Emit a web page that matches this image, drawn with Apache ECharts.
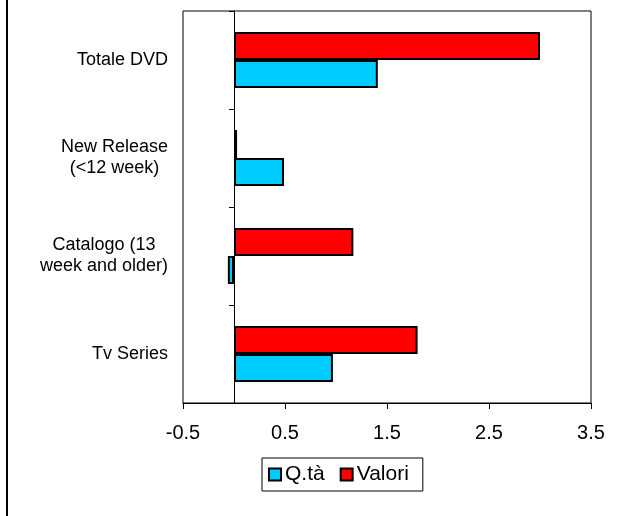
<!DOCTYPE html>
<html>
<head>
<meta charset="utf-8">
<script src="https://cdn.jsdelivr.net/npm/echarts@6/dist/echarts.min.js"></script>
<style>
  html, body { margin: 0; padding: 0; background: #fff; }
  #chart { width: 633px; height: 516px; }
</style>
</head>
<body>
<div id="chart"></div>
<script>
// Categories (top to bottom) and the two series
var categories = ['Totale DVD', 'New Release\n(<12 week)', 'Catalogo (13\nweek and older)', 'Tv Series'];
var valori = [3.0, 0.03, 1.17, 1.80];
var quantita = [1.41, 0.49, -0.06, 0.97];
var tickLabels = [-0.5, 0.5, 1.5, 2.5, 3.5];

var FONT = '"Liberation Sans", Arial, sans-serif';

var chart = echarts.init(document.getElementById('chart'), null, { renderer: 'canvas' });

chart.setOption({
  backgroundColor: '#fff',
  animation: false,
  textStyle: { fontFamily: FONT, color: '#000' },
  graphic: [{
    type: 'line',
    shape: { x1: 7, y1: 0, x2: 7, y2: 516 },
    style: { stroke: '#000', lineWidth: 2 }
  }],
  grid: {
    left: 183, right: 42, top: 11, bottom: 113,
    show: true, borderColor: '#000', borderWidth: 1, backgroundColor: 'transparent'
  },
  legend: {
    data: ['Q.tà', 'Valori'],
    left: 262, top: 458,
    orient: 'horizontal',
    padding: [6, 14, 6, 6],
    itemGap: 15,
    itemWidth: 12, itemHeight: 12,
    icon: 'rect',
    borderColor: '#000', borderWidth: 1,
    itemStyle: { borderColor: '#000', borderWidth: 2 },
    textStyle: { fontFamily: FONT, fontSize: 21, color: '#000', padding: [0, 0, 0, -1] }
  },
  xAxis: {
    type: 'value',
    min: -0.5, max: 3.5, interval: 0.5,
    splitLine: { show: false },
    axisLine: { show: true, onZero: false, lineStyle: { color: '#000', width: 1 } },
    axisTick: { show: true, length: 6, customValues: tickLabels, lineStyle: { color: '#000' } },
    axisLabel: {
      customValues: tickLabels,
      fontFamily: FONT, fontSize: 20, color: '#000', margin: 20,
      formatter: function (v) { return String(v); }
    }
  },
  yAxis: [{
    type: 'category',
    data: categories,
    inverse: true,
    position: 'left',
    axisLine: { show: false, onZero: false },
    axisTick: { show: false },
    axisLabel: {
      margin: 15,
      align: 'right',
      formatter: function (v) {
        return v.split('\n').map(function (l) { return '{c|' + l + '}'; }).join('\n');
      },
      rich: {
        c: { align: 'center', fontFamily: FONT, fontSize: 18, lineHeight: 21, color: '#000' }
      }
    }
  }, {
    // zero line with category boundary ticks
    type: 'category',
    data: categories,
    inverse: true,
    position: 'left',
    axisLine: { show: true, onZero: true, onZeroAxisIndex: 0, lineStyle: { color: '#000', width: 1 } },
    axisTick: { show: true, length: 5, lineStyle: { color: '#000' } },
    axisLabel: { show: false },
    splitLine: { show: false }
  }],
  series: [{
    name: 'Valori',
    type: 'bar',
    yAxisIndex: 0,
    data: valori,
    barWidth: 28,
    barGap: '0%',
    itemStyle: { color: '#FF0000', borderColor: '#000', borderWidth: 2 }
  }, {
    name: 'Q.tà',
    type: 'bar',
    yAxisIndex: 0,
    data: quantita,
    barWidth: 28,
    barGap: '0%',
    itemStyle: { color: '#00CCFF', borderColor: '#000', borderWidth: 2 }
  }]
});
</script>
</body>
</html>
